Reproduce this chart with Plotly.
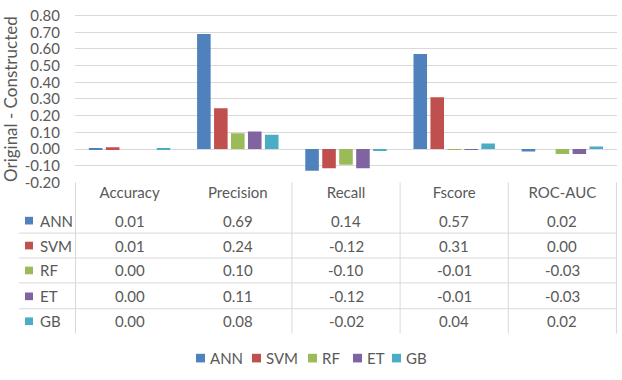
import plotly.graph_objects as go

metrics = ["Accuracy", "Precision", "Recall", "Fscore", "ROC-AUC"]
models = ["ANN", "SVM", "RF", "ET", "GB"]
colors = ["#4F81BD", "#C0504D", "#9BBB59", "#8064A2", "#4BACC6"]

# bar heights as drawn
ann = [0.003, 0.69, -0.13, 0.57, -0.015]
svm = [0.01, 0.245, -0.115, 0.31, 0.0]
rf = [0.0, 0.095, -0.095, -0.004, -0.03]
et = [0.0, 0.105, -0.115, -0.004, -0.03]
gb = [0.003, 0.085, -0.01, 0.033, 0.015]
bar_values = [ann, svm, rf, et, gb]

# numbers printed in the data table
table_ann = ["0.01", "0.69", "0.14", "0.57", "0.02"]
table_svm = ["0.01", "0.24", "-0.12", "0.31", "0.00"]
table_rf = ["0.00", "0.10", "-0.10", "-0.01", "-0.03"]
table_et = ["0.00", "0.11", "-0.12", "-0.01", "-0.03"]
table_gb = ["0.00", "0.08", "-0.02", "0.04", "0.02"]
table_rows = [table_ann, table_svm, table_rf, table_et, table_gb]

y_ticks = [-0.2, -0.1, 0.0, 0.1, 0.2, 0.3, 0.4, 0.5, 0.6, 0.7, 0.8]
y_ticktext = ["-0.20", "-0.10", "0.00", "0.10", "0.20", "0.30", "0.40", "0.50", "0.60", "0.70", "0.80"]

W, H = 622, 380
FONT = "Lato"
GREY = "#595959"
LINE = "#D9D9D9"
FS = 15


def py(pix):
    return 1 - pix / H


def px(pix):
    return pix / W


fig = go.Figure()
for name, vals, col in zip(models, bar_values, colors):
    fig.add_trace(go.Bar(x=metrics, y=vals, name=name, marker=dict(color=col, line=dict(width=0))))

shapes = []
annotations = []

# table row centres and separators (pixels)
row_y = [222, 248, 274, 301, 327]
sep_y = [235, 261, 287, 314]

for y in sep_y:
    shapes.append(dict(type="line", xref="paper", yref="paper", x0=px(19), x1=px(617),
                       y0=py(y), y1=py(y), line=dict(color=LINE, width=1)))

for b in [-0.5, 1.5, 2.5, 3.5, 4.5]:
    shapes.append(dict(type="line", xref="x", yref="paper", x0=b, x1=b,
                       y0=py(182), y1=py(340), line=dict(color=LINE, width=1)))

for r, (name, col, vals) in enumerate(zip(models, colors, table_rows)):
    y = row_y[r]
    shapes.append(dict(type="rect", xref="paper", yref="paper", x0=px(25), x1=px(33),
                       y0=py(y + 4), y1=py(y - 4), fillcolor=col, line=dict(width=0)))
    annotations.append(dict(text=name, xref="paper", yref="paper", x=px(38), y=py(y),
                            xanchor="left", yanchor="middle", showarrow=False,
                            font=dict(family=FONT, size=FS, color=GREY)))
    for c, v in enumerate(vals):
        annotations.append(dict(text=v, xref="x", yref="paper", x=metrics[c], y=py(y),
                                xanchor="center", yanchor="middle", showarrow=False,
                                font=dict(family=FONT, size=FS, color=GREY)))

# legend drawn below the table
leg_sq = [196, 252, 308, 353, 392]
for name, col, x in zip(models, colors, leg_sq):
    shapes.append(dict(type="rect", xref="paper", yref="paper", x0=px(x), x1=px(x + 9),
                       y0=py(370), y1=py(361), fillcolor=col, line=dict(width=0)))
    annotations.append(dict(text=name, xref="paper", yref="paper", x=px(x + 12), y=py(365),
                            xanchor="left", yanchor="middle", showarrow=False,
                            font=dict(family=FONT, size=FS, color=GREY)))

annotations.append(dict(text="Original - Constructed", xref="paper", yref="paper",
                        x=px(10), y=py(95), textangle=-90, showarrow=False,
                        xanchor="center", yanchor="middle",
                        font=dict(family=FONT, size=17, color=GREY)))

# plot area: -0.20 at 182 px, 0.80 at 8 px; a little headroom above 0.80
y_lo, y_hi = -0.2, 0.81
pix_per_unit = (182 - 8) / 1.0
top_pix = 182 - (y_hi - y_lo) * pix_per_unit

fig.update_layout(
    width=W, height=H,
    margin=dict(l=0, r=0, t=0, b=0),
    paper_bgcolor="white", plot_bgcolor="white",
    barmode="group", bargap=0.216, bargroupgap=0.2,
    showlegend=False,
    shapes=shapes, annotations=annotations,
    font=dict(family=FONT, size=FS, color=GREY),
    xaxis=dict(domain=[px(75), px(617)], showgrid=False, zeroline=False, showline=False,
               ticks="", tickfont=dict(family=FONT, size=FS, color=GREY)),
    yaxis=dict(domain=[py(182), py(top_pix)], range=[y_lo, y_hi], tickvals=y_ticks, ticktext=y_ticktext,
               showgrid=True, gridcolor=LINE, gridwidth=1, zeroline=False, showline=False,
               ticks="", ticklabelstandoff=14, ticklabeloverflow="allow",
               tickfont=dict(family=FONT, size=FS, color=GREY)),
)

# the page body has a default margin; drop it so the chart sits at the window's corner
fig.write_html("out.html", config={"displayModeBar": False},
               post_script="document.body.style.margin='0';")
